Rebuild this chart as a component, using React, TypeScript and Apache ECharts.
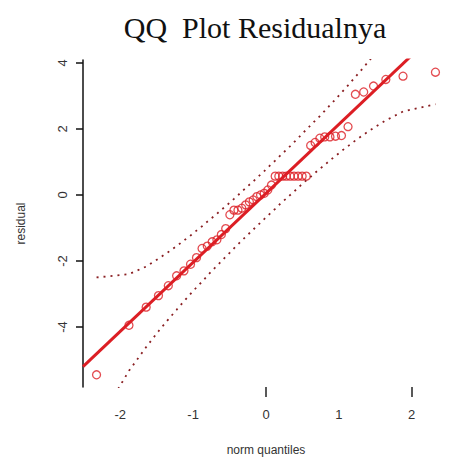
import React, { useEffect, useRef } from "react";
import * as echarts from "echarts";

const normQuantiles = [
  -2.326, -1.881, -1.645, -1.476, -1.341, -1.227, -1.126, -1.036, -0.954, -0.878,
  -0.806, -0.739, -0.674, -0.613, -0.553, -0.496, -0.44, -0.385, -0.332, -0.279,
  -0.228, -0.176, -0.126, -0.075, -0.025, 0.025, 0.075, 0.126, 0.176, 0.228,
  0.279, 0.332, 0.385, 0.44, 0.496, 0.553, 0.613, 0.674, 0.739, 0.806,
  0.878, 0.954, 1.036, 1.126, 1.227, 1.341, 1.476, 1.645, 1.881, 2.326,
];
const residuals = [
  -5.45, -3.95, -3.4, -3.05, -2.75, -2.45, -2.3, -2.1, -1.9, -1.62,
  -1.55, -1.42, -1.36, -1.2, -1.02, -0.6, -0.46, -0.46, -0.4, -0.3,
  -0.21, -0.15, -0.05, 0.0, 0.05, 0.15, 0.3, 0.57, 0.57, 0.57,
  0.57, 0.57, 0.57, 0.57, 0.57, 0.57, 1.5, 1.59, 1.72, 1.76,
  1.76, 1.78, 1.8, 2.07, 3.05, 3.12, 3.3, 3.5, 3.6, 3.72,
];
const envelopeUpper = [
  -2.5, -2.4, -2.17, -1.93, -1.73, -1.55, -1.38, -1.23, -1.08, -0.95,
  -0.81, -0.69, -0.57, -0.45, -0.34, -0.23, -0.12, -0.01, 0.1, 0.21,
  0.31, 0.41, 0.51, 0.62, 0.72, 0.83, 0.94, 1.04, 1.15, 1.26,
  1.37, 1.48, 1.6, 1.72, 1.85, 1.98, 2.11, 2.25, 2.39, 2.55,
  2.72, 2.9, 3.1, 3.32, 3.58, 3.87, 4.23, 4.71, 5.43, 7.07,
];
const envelopeLower = [
  -6.97, -5.33, -4.61, -4.13, -3.77, -3.48, -3.22, -3.0, -2.8, -2.63,
  -2.45, -2.29, -2.15, -2.01, -1.87, -1.75, -1.62, -1.5, -1.38, -1.27,
  -1.16, -1.05, -0.94, -0.84, -0.73, -0.63, -0.52, -0.42, -0.31, -0.2,
  -0.11, 0.0, 0.1, 0.22, 0.33, 0.44, 0.55, 0.67, 0.79, 0.91,
  1.05, 1.18, 1.33, 1.48, 1.65, 1.83, 2.03, 2.26, 2.53, 2.75,
];
const refLineIntercept = 0.05;
const refLineSlope = 2.09;
const xTickLabels = [-2, -1, 0, 1, 2];
const xTickMarks = [0, 2];
const yTickLabels = [-4, -2, 0, 2, 4];
const xRange = [-2.512, 2.512];
const yRange = [-5.82, 4.09];

const RED = "#dc1e24";
const ENV = "#8a1f22";
const SANS = '"Liberation Sans", Arial, Helvetica, sans-serif';

export default function App() {
  const ref = useRef<HTMLDivElement>(null);
  useEffect(() => {
    document.body.style.margin = "0";
    const chart = echarts.init(ref.current!, null, { renderer: "svg" });
    const pts = normQuantiles.map((z, i) => [z, residuals[i]]);
    const up = normQuantiles.map((z, i) => [z, envelopeUpper[i]]);
    const lo = normQuantiles.map((z, i) => [z, envelopeLower[i]]);
    const refLine = xRange.map((x) => [x, refLineIntercept + refLineSlope * x]);
    chart.setOption({
      animation: false,
      backgroundColor: "#ffffff",
      graphic: [
        {
          type: "text",
          x: 255,
          y: 27,
          style: {
            text: "QQ  Plot Residualnya",
            font: '30px "Liberation Serif", "Times New Roman", serif',
            fill: "#111",
            align: "center",
            verticalAlign: "middle",
          },
        },
      ],
      grid: { left: 83, top: 60, right: -18, bottom: 74 },
      xAxis: {
        type: "value",
        min: xRange[0],
        max: xRange[1],
        axisLine: { show: false, onZero: false },
        splitLine: { show: false },
        axisTick: {
          show: true,
          customValues: xTickMarks,
          length: 10,
          lineStyle: { color: "#222", width: 1.5 },
        },
        axisLabel: {
          customValues: xTickLabels,
          margin: 21,
          fontSize: 13,
          color: "#333",
          fontFamily: SANS,
        },
        name: "norm quantiles",
        nameLocation: "middle",
        nameGap: 57,
        nameTextStyle: { fontSize: 12, color: "#333", fontFamily: SANS },
      },
      yAxis: {
        type: "value",
        min: yRange[0],
        max: yRange[1],
        axisLine: { show: true, onZero: false, lineStyle: { color: "#111", width: 1.5 } },
        splitLine: { show: false },
        axisTick: {
          show: true,
          customValues: yTickLabels,
          length: 7,
          lineStyle: { color: "#111", width: 1.5 },
        },
        axisLabel: {
          customValues: yTickLabels,
          rotate: 90,
          margin: 14,
          fontSize: 13,
          color: "#333",
          fontFamily: SANS,
        },
        name: "residual",
        nameLocation: "middle",
        nameGap: 56,
        nameRotate: 90,
        nameTextStyle: { fontSize: 12, color: "#333", fontFamily: SANS },
      },
      series: [
        {
          type: "line",
          data: up,
          symbol: "none",
          clip: true,
          lineStyle: { color: ENV, width: 1.8, type: [2, 5] },
        },
        {
          type: "line",
          data: lo,
          symbol: "none",
          clip: true,
          lineStyle: { color: ENV, width: 1.8, type: [2, 5] },
        },
        {
          type: "line",
          data: refLine,
          symbol: "none",
          clip: true,
          lineStyle: { color: RED, width: 3 },
        },
        {
          type: "scatter",
          data: pts,
          symbol: "circle",
          symbolSize: 8,
          clip: false,
          itemStyle: { color: "rgba(0,0,0,0)", borderColor: RED, borderWidth: 1.3 },
        },
      ],
    });
    return () => chart.dispose();
  }, []);
  return <div ref={ref} style={{ width: 449, height: 461 }} />;
}
